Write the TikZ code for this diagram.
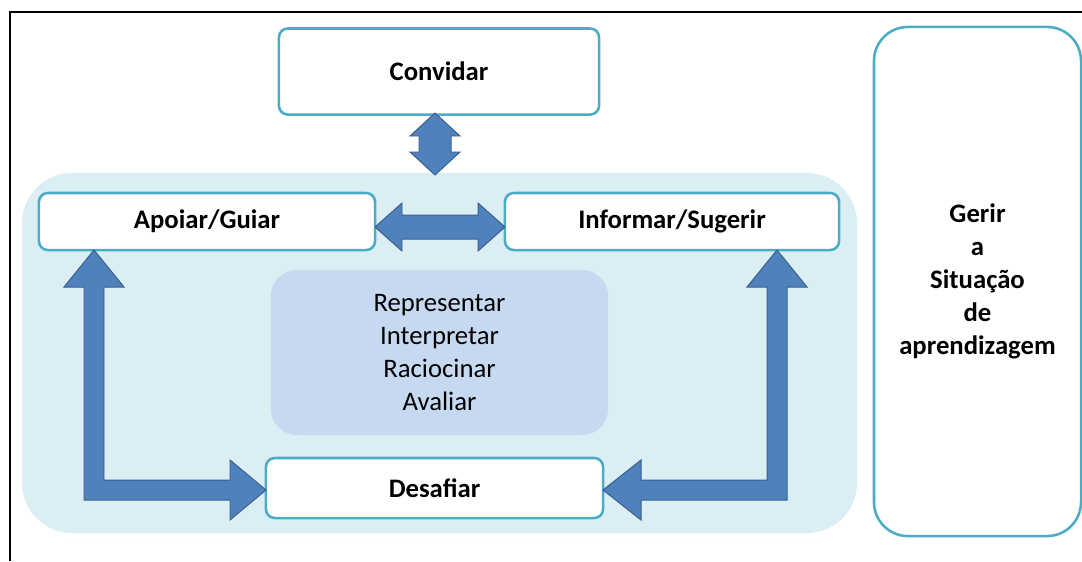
\documentclass[tikz,border=0pt]{standalone}
\usepackage{fontspec}
\setmainfont{Carlito}

\definecolor{boxline}{HTML}{4BACC6}
\definecolor{zoneblue}{HTML}{DBEEF4}
\definecolor{coreblue}{HTML}{C6D9F0}
\definecolor{arrowfill}{HTML}{4F81BD}
\definecolor{arrowline}{HTML}{3A5F8B}

\tikzset{
  etapa/.style={draw=boxline, line width=1.8pt, fill=white, rounded corners=0.22cm,
    inner sep=0pt, align=center, font=\fontsize{19}{23.4}\selectfont\bfseries},
  seta/.style={fill=arrowfill, draw=arrowline, line width=0.7pt, line join=miter},
}

\begin{document}
\begin{tikzpicture}[x=0.025cm,y=-0.025cm]
			\useasboundingbox (0,0) rectangle (1082,561);
			\draw[line width=1.4pt] (1082,12) -- (10,12) -- (10,561);

			% zona de fundo
			\fill[zoneblue, rounded corners=1.25cm] (22,173) rectangle (857,533);

			\node[etapa, minimum width=8cm, minimum height=2.15cm] (convidar) at (439,71.5) {Convidar};
			\node[etapa, minimum width=8.4cm, minimum height=1.425cm] (apoiar) at (207,221.5) {Apoiar/Guiar};
			\node[etapa, minimum width=8.35cm, minimum height=1.425cm] (informar) at (672,221.5) {Informar/Sugerir};
			\node[etapa, minimum width=8.425cm, minimum height=1.5cm] (desafiar) at (434.5,488) {Desafiar};
			\node[fill=coreblue, rounded corners=0.65cm, minimum width=8.425cm, minimum height=4.125cm,
				align=center, font=\fontsize{19}{23.4}\selectfont] (nucleo) at (439.5,352.5)
				{Representar\\Interpretar\\Raciocinar\\Avaliar};
			\node[etapa, rounded corners=0.85cm, minimum width=5.175cm, minimum height=12.725cm] (gerir) at (977.5,281.5)
				{Gerir\\a\\Situação\\de\\aprendizagem};

			% setas
			\draw[seta] (435,113) -- (460,136) -- (451,136) -- (451,152) -- (460,152) -- (435,175)
				-- (410,152) -- (419,152) -- (419,136) -- (410,136) -- cycle;
			\draw[seta] (375,227) -- (402,203) -- (402,215) -- (478,215) -- (478,203) -- (505,227)
				-- (478,251) -- (478,239) -- (402,239) -- (402,251) -- cycle;
			\draw[seta] (94,250) -- (124,287) -- (104,287) -- (104,480) -- (230,480) -- (230,460) -- (266,490)
				-- (230,520) -- (230,500) -- (84,500) -- (84,287) -- (64,287) -- cycle;
			\draw[seta] (777,250) -- (807,287) -- (787,287) -- (787,500) -- (641,500) -- (641,520) -- (603,490)
				-- (641,460) -- (641,480) -- (767,480) -- (767,287) -- (747,287) -- cycle;
		\end{tikzpicture}
\end{document}
